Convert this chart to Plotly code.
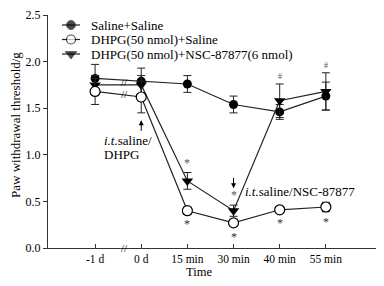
import plotly.graph_objects as go

# ---------------- data ----------------
categories = ["-1 d", "0 d", "15 min", "30 min", "40 min", "55 min"]
y_ticks = [0.0, 0.5, 1.0, 1.5, 2.0, 2.5]

saline_saline = [1.82, 1.79, 1.76, 1.54, 1.46, 1.63]
saline_saline_err = [0.15, 0.14, 0.09, 0.09, 0.08, 0.15]

dhpg_saline = [1.68, 1.62, 0.40, 0.27, 0.41, 0.44]
dhpg_saline_err = [0.14, 0.17, 0.04, 0.04, 0.03, 0.05]

dhpg_nsc = [1.75, 1.75, 0.72, 0.40, 1.58, 1.68]
dhpg_nsc_err = [0.10, 0.10, 0.09, 0.06, 0.18, 0.20]

series_names = ["Saline+Saline", "DHPG(50 nmol)+Saline", "DHPG(50 nmol)+NSC-87877(6 nmol)"]

# significance marks (per time point)
dhpg_saline_sig = ["", "", "*", "*", "*", "*"]   # below DHPG+Saline
dhpg_nsc_sig = ["", "", "*", "*", "#", "#"]      # above DHPG+NSC

# ---------------- style ----------------
FONT = "Liberation Serif, Times New Roman, serif"
BODY = 8                      # default browser body margin
W, H = 384 - BODY, 286 - BODY
ML, MR, MT, MB = 48 - BODY, 0, 15 - BODY, 38
PW, PH = W - ML - MR, H - MT - MB
INK = "#222"

fig = go.Figure()

def err(vals):
    return dict(type="data", array=vals, visible=True, color=INK, thickness=1, width=4)

fig.add_trace(go.Scatter(
    x=categories, y=saline_saline, mode="lines+markers", name=series_names[0],
    line=dict(color=INK, width=1.2),
    marker=dict(symbol="circle", size=9, color="black"),
    error_y=err(saline_saline_err), showlegend=False))
fig.add_trace(go.Scatter(
    x=categories, y=dhpg_nsc, mode="lines+markers", name=series_names[2],
    line=dict(color=INK, width=1.2),
    marker=dict(symbol="triangle-down", size=10, color="black"),
    error_y=err(dhpg_nsc_err), showlegend=False))
fig.add_trace(go.Scatter(
    x=categories, y=dhpg_saline, mode="lines+markers", name=series_names[1],
    line=dict(color=INK, width=1.2),
    marker=dict(symbol="circle", size=10, color="white", line=dict(color="black", width=1.2)),
    error_y=err(dhpg_saline_err), showlegend=False))

# ---- manual legend on an overlay pixel-like axis ----
leg_rows = [10, 24.5, 39]
leg_styles = [
    dict(symbol="circle", size=9, color="black"),
    dict(symbol="circle", size=9, color="white", line=dict(color="black", width=1.2)),
    dict(symbol="triangle-down", size=10, color="black"),
]
for name, row, st in zip(series_names, leg_rows, leg_styles):
    st = dict(st)
    st["size"] = [0, st["size"], 0]
    fig.add_trace(go.Scatter(
        x=[14, 23, 32], y=[row] * 3, xaxis="x2", yaxis="y2",
        mode="lines+markers", line=dict(color=INK, width=1.2),
        marker=st, showlegend=False, hoverinfo="skip"))
    fig.add_annotation(x=41, y=row, xref="x2", yref="y2", text=name, showarrow=False,
                       xanchor="left", yanchor="middle", font=dict(family=FONT, size=13, color="black"))

# ---- significance marks ----
for i, s in enumerate(dhpg_saline_sig):
    if s:
        fig.add_annotation(x=i, y=dhpg_saline[i] - dhpg_saline_err[i], text=s, showarrow=False,
                           yanchor="top", yshift=-1, font=dict(family=FONT, size=12, color="#333"))
for i, s in enumerate(dhpg_nsc_sig):
    if s:
        size = 12 if s == "*" else 8
        fig.add_annotation(x=i, y=dhpg_nsc[i] + dhpg_nsc_err[i], text=s, showarrow=False,
                           yanchor="bottom", yshift=1, font=dict(family=FONT, size=size, color="#555"))

# ---- axis-break marks ----
mid_top = (saline_saline[0] + saline_saline[1] + dhpg_nsc[0] + dhpg_nsc[1]) / 4
mid_open = (dhpg_saline[0] + dhpg_saline[1]) / 2
for yv in [mid_top, mid_open, 0.0]:
    fig.add_annotation(x=0.63, y=yv, text="//", showarrow=False,
                       font=dict(family=FONT, size=11, color="black"))

# ---- injection annotations ----
fig.add_annotation(x=1, y=1.37, ax=0, ay=12, text="",
                   showarrow=True, arrowhead=2, arrowsize=1, arrowwidth=1, arrowcolor="black")
fig.add_annotation(x=0.15, y=(248 - 140) / PH * 2.5, text="<i>i.t.</i>saline/", showarrow=False,
                   xanchor="left", font=dict(family=FONT, size=13, color="black"))
fig.add_annotation(x=0.15, y=(248 - 154) / PH * 2.5, text="DHPG", showarrow=False,
                   xanchor="left", font=dict(family=FONT, size=13, color="black"))
fig.add_annotation(x=3, y=0.64, ax=0, ay=-12, text="",
                   showarrow=True, arrowhead=2, arrowsize=1, arrowwidth=1, arrowcolor="black")
fig.add_annotation(x=3.2, y=0.61, text="<i>i.t.</i>saline/NSC-87877", showarrow=False,
                   xanchor="left", font=dict(family=FONT, size=13, color="black"))

# ---- titles ----
fig.add_annotation(x=(199 - 48) / PW, y=-(272 - 248) / PH, xref="paper", yref="paper",
                   text="Time", showarrow=False, xanchor="center", yanchor="middle",
                   font=dict(family=FONT, size=12.5, color="black"))
fig.add_annotation(x=-(48 - 15) / PW, y=(248 - 125) / PH, xref="paper", yref="paper", textangle=-90,
                   text="Paw withdrawal threshold/g", showarrow=False, xanchor="center", yanchor="middle",
                   font=dict(family=FONT, size=13, color="black"))

fig.update_layout(
    width=W, height=H, margin=dict(l=ML, r=MR, t=MT, b=MB),
    paper_bgcolor="white", plot_bgcolor="white",
    font=dict(family=FONT, size=12, color="black"),
    xaxis=dict(type="category", range=[-1.02, 6.26], showgrid=False, zeroline=False,
               showline=True, linecolor="#333", linewidth=1,
               ticks="inside", ticklen=4, tickcolor="#333",
               tickfont=dict(family=FONT, size=11.5, color="black")),
    yaxis=dict(range=[0, 2.5], tickvals=y_ticks, tickformat=".1f", showgrid=False, zeroline=False,
               showline=True, linecolor="#333", linewidth=1,
               ticks="outside", ticklen=4, tickcolor="#333",
               tickfont=dict(family=FONT, size=12, color="black")),
    xaxis2=dict(overlaying="x", range=[0, PW], visible=False, anchor="y2"),
    yaxis2=dict(overlaying="y", range=[PH, 0], visible=False, anchor="x2"),
)

fig.write_html("out.html")
